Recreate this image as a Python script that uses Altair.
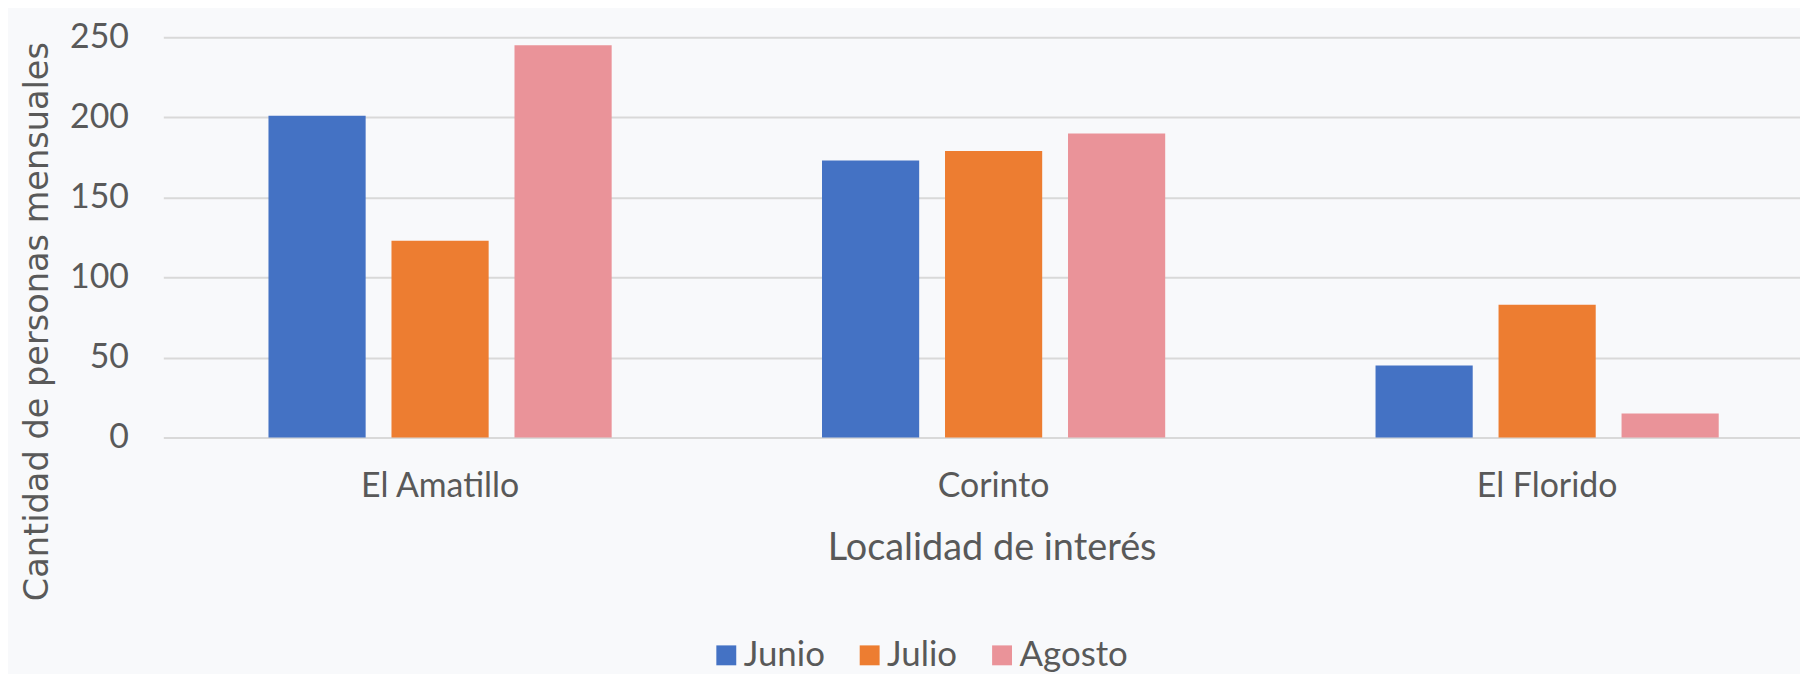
import altair as alt
import pandas as pd

localidades = ["El Amatillo", "Corinto", "El Florido"]
meses = ["Junio", "Julio", "Agosto"]
junio = [201, 173, 45]
julio = [123, 179, 83]
agosto = [245, 190, 15]
colores = ["#4472C4", "#ED7D31", "#EA9399"]

rows = []
for i, loc in enumerate(localidades):
    for mes, serie in zip(meses, [junio, julio, agosto]):
        rows.append({"Localidad": loc, "Mes": mes, "Valor": serie[i]})
df = pd.DataFrame(rows)

W = 1643
H = 402
TXT = "#595959"
FONT = "Lato"

chart = alt.Chart(df).mark_bar().encode(
    x=alt.X("Localidad:N", sort=localidades,
            scale=alt.Scale(paddingInner=0, paddingOuter=0, range=[-1, 1667]),
            axis=alt.Axis(title="Localidad de interés", labelAngle=0, ticks=False, domain=False,
                          labelFontSize=34, labelColor=TXT, labelFont=FONT,
                          labelBaseline="middle", labelPadding=49,
                          titleFontSize=38, titleColor=TXT, titleFont=FONT, titleFontWeight="normal",
                          titleX=831, titleY=111, titleBaseline="middle", titleAlign="center")),
    xOffset=alt.XOffset("Mes:N", sort=meses,
                        scale=alt.Scale(paddingInner=0.21, paddingOuter=0.855)),
    y=alt.Y("Valor:Q", scale=alt.Scale(domain=[0, 250], nice=False),
            axis=alt.Axis(title="Cantidad de personas mensuales", values=[0, 50, 100, 150, 200, 250],
                          ticks=False, domain=False, gridColor="#D9D9D9", gridWidth=2,
                          labelFontSize=34, labelColor=TXT, labelFont=FONT, labelPadding=36,
                          titleFontSize=33.7, titleColor=TXT, titleFont="DejaVu Sans", titleFontWeight="normal",
                          titleAngle=-90, titleX=-127, titleY=285, titleAlign="center",
                          titleBaseline="middle")),
    color=alt.Color("Mes:N", sort=meses, scale=alt.Scale(domain=meses, range=colores),
                    legend=alt.Legend(title=None, orient="none", direction="horizontal",
                                      legendX=547, legendY=603, symbolType="square",
                                      symbolSize=400, symbolStrokeWidth=0, symbolOffset=0,
                                      labelFontSize=35, labelColor=TXT, labelFont=FONT,
                                      labelOffset=0, columnPadding=27)),
).properties(
    width=W, height=H,
    autosize=alt.AutoSizeParams(type="none"),
    padding={"left": 157, "top": 28, "right": 0, "bottom": 236},
    background="#F8F9FB",
).configure_view(stroke=None)

chart.save("out.html", embed_options={"renderer": "svg", "actions": False})
